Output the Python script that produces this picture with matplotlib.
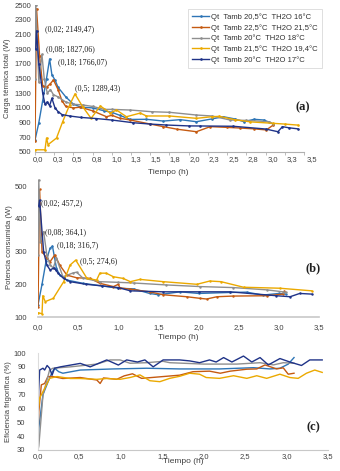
import matplotlib
matplotlib.use("Agg")
import matplotlib.pyplot as plt

# ---- series names and colours
labels = [
    "Qt  Tamb 20,5°C  TH2O 16°C",
    "Qt  Tamb 22,5°C  TH2O 21,5°C",
    "Qt  Tamb 20°C  TH2O 18°C",
    "Qt  Tamb 21,5°C  TH2O 19,4°C",
    "Qt  Tamb 20°C  TH2O 17°C",
]
colors = ["#2e75b6", "#c55a11", "#8f8f8f", "#eba900", "#1f3388"]

# ---- (a) carga térmica total (W)
ta_blue = [0, 0.05, 0.1, 0.15, 0.19, 0.22, 0.26, 0.3, 0.4, 0.5, 0.6, 0.75, 0.9, 1.0, 1.1, 1.24,
           1.45, 1.67, 1.89, 2.1, 2.3, 2.45, 2.6, 2.72, 2.85, 2.98, 3.1]
qa_blue = [660, 900, 1200, 1500, 1766, 1550, 1480, 1380, 1250, 1150, 1110, 1100, 1060, 1040, 1000, 943,
           945, 921, 940, 912, 950, 980, 950, 912, 945, 935, 880]
ta_orange = [0, 0.02, 0.06, 0.1, 0.15, 0.2, 0.24, 0.3, 0.35, 0.4, 0.5, 0.59, 0.75, 0.93, 1.0, 1.1,
             1.24, 1.5, 1.67, 1.85, 2.1, 2.28, 2.5, 2.67, 2.85, 3.01, 3.1]
qa_orange = [650, 2450, 1800, 1400, 1380, 1430, 1480, 1350, 1200, 1120, 1100, 1110, 1060, 980, 1000, 960,
             935, 880, 845, 810, 776, 845, 835, 826, 815, 800, 867]
ta_gray = [0, 0.01, 0.05, 0.09, 0.12, 0.16, 0.2, 0.24, 0.3, 0.4, 0.5, 0.62, 0.75, 0.9, 1.0, 1.24,
           1.52, 1.75, 2.1, 2.3, 2.54, 2.75, 3.05, 3.1]
qa_gray = [1500, 2500, 1450, 1827, 1500, 1300, 1350, 1280, 1250, 1180, 1150, 1140, 1120, 1080, 1080, 1071,
           1048, 1040, 1003, 990, 935, 930, 912, 880]
ta_gold = [0, 0.13, 0.15, 0.17, 0.28, 0.36, 0.45, 0.52, 0.62, 0.73, 0.85, 0.98, 1.06, 1.19, 1.37,
           1.45, 1.75, 2.1, 2.3, 2.4, 2.6, 2.8, 3.1, 3.25, 3.42]
qa_gold = [530, 530, 690, 600, 690, 912, 1139, 1289, 1116, 958, 1126, 1030, 1071, 980, 1030,
           990, 990, 958, 980, 985, 940, 910, 890, 880, 866]
ta_navy = [0.01, 0.02, 0.05, 0.1, 0.13, 0.16, 0.19, 0.22, 0.26, 0.3, 0.35, 0.45, 0.6, 0.8, 1.0,
           1.28, 1.5, 1.71, 2.0, 2.15, 2.58, 3.0, 3.16, 3.22, 3.3, 3.42]
qa_navy = [1900, 2149, 1700, 1300, 1150, 1180, 1130, 1230, 1100, 1050, 1010, 990, 970, 955, 935,
           898, 880, 867, 855, 854, 850, 813, 776, 845, 830, 815]

# ---- (b) potencia consumida (W)
tb_blue = [0, 0.05, 0.1, 0.15, 0.18, 0.23, 0.27, 0.36, 0.56, 0.8, 1.0, 1.19, 1.39, 1.5, 1.77,
           2.0, 2.39, 2.6, 2.8, 3.0, 3.09]
pb_blue = [137, 200, 270, 310, 317, 249, 228, 213, 203, 195, 188, 186, 172, 168, 177,
           172, 175, 176, 167, 172, 170]
tb_orange = [0, 0.02, 0.05, 0.11, 0.15, 0.21, 0.27, 0.36, 0.48, 0.65, 0.77, 0.94, 1.0, 1.02, 1.15,
             1.39, 1.56, 1.85, 2.02, 2.1, 2.23, 2.43, 2.85, 3.05, 3.07]
pb_orange = [130, 490, 300, 280, 269, 290, 259, 228, 220, 218, 203, 193, 200, 189, 185,
             177, 168, 162, 157, 155, 162, 164, 165, 170, 178]
tb_gray = [0, 0.01, 0.03, 0.07, 0.11, 0.15, 0.19, 0.23, 0.31, 0.44, 0.48, 0.56, 0.77, 1.0, 1.19,
           1.6, 2.02, 2.43, 2.85, 3.05, 3.09]
pb_gray = [290, 519, 330, 361, 290, 259, 250, 280, 223, 235, 237, 219, 208, 206, 204,
           198, 193, 190, 183, 177, 175]
tb_gold = [0, 0.05, 0.06, 0.09, 0.19, 0.32, 0.4, 0.47, 0.61, 0.73, 0.77, 0.85, 0.94, 1.06, 1.15,
           1.27, 1.56, 1.98, 2.14, 2.28, 2.56, 3.01, 3.41]
pb_gold = [113, 110, 165, 147, 157, 208, 259, 274, 218, 213, 234, 234, 223, 218, 208,
           215, 208, 200, 210, 208, 191, 188, 180]
tb_navy = [0.01, 0.02, 0.07, 0.11, 0.15, 0.2, 0.22, 0.25, 0.32, 0.4, 0.6, 0.8, 1.0, 1.15, 1.56,
           2.0, 2.39, 2.97, 3.14, 3.26, 3.41]
pb_navy = [440, 457, 300, 259, 244, 250, 244, 234, 218, 208, 200, 195, 190, 180, 177,
           177, 177, 165, 162, 172, 170]

# ---- (c) eficiencia frigorífica (%)
tc_blue = [0, 0.01, 0.06, 0.12, 0.17, 0.2, 0.25, 0.3, 0.51, 0.91, 1.31, 1.71, 2.19, 2.6, 2.8,
           2.92, 3.02, 3.09]
ec_blue = [30, 46, 70, 79, 86, 89, 86.5, 85.4, 87.7, 88.5, 89, 88.5, 88.5, 89.4, 88.5,
           89, 92, 96.7]
tc_orange = [0, 0.01, 0.04, 0.08, 0.12, 0.18, 0.3, 0.51, 0.71, 0.75, 0.79, 0.95, 1.04, 1.14, 1.25,
             1.51, 1.71, 1.87, 2.07, 2.2, 2.32, 2.52, 2.64, 2.74, 2.88, 2.96, 3.02, 3.09]
ec_orange = [38.5, 57.7, 77, 78, 83, 83, 81.6, 82.3, 80.5, 78, 82, 81, 83.5, 85, 81.7,
             83, 84, 86.5, 86.9, 85.4, 86.9, 88.3, 88.5, 91.4, 88.5, 89.3, 84.7, 85.4]
tc_gray = [0, 0.01, 0.06, 0.14, 0.18, 0.39, 0.71, 0.87, 0.99, 1.11, 1.31, 1.51, 1.59, 2.0, 2.4,
           2.68, 2.84, 2.96, 3.09]
ec_gray = [30, 33, 69.7, 87.7, 89, 90, 92, 95, 95, 92.6, 93, 94, 93, 92, 92,
           93, 91.4, 93, 92.6]
tc_gold = [0, 0.02, 0.08, 0.14, 0.23, 0.39, 0.51, 0.71, 0.83, 0.99, 1.11, 1.23, 1.35, 1.47, 1.59,
           1.71, 1.83, 1.95, 2.03, 2.19, 2.36, 2.52, 2.64, 2.76, 2.92, 3.04, 3.14, 3.24, 3.34, 3.43]
ec_gold = [58, 67.5, 74.5, 81.7, 83, 81.6, 81.6, 81, 81.6, 81, 82.3, 84.2, 80, 79.3, 81.7,
           83.2, 85.4, 84.7, 82.3, 81.7, 83.6, 81.7, 83.6, 81.7, 84.7, 82.3, 81.7, 85.4, 87.7, 86]
tc_navy = [0, 0.02, 0.06, 0.08, 0.11, 0.14, 0.17, 0.2, 0.27, 0.51, 0.63, 0.83, 0.97, 1.07, 1.2,
           1.29, 1.39, 1.51, 1.71, 1.83, 1.95, 2.07, 2.15, 2.24, 2.34, 2.48, 2.58, 2.68, 2.78, 2.92,
           3.04, 3.18, 3.28, 3.43]
ec_navy = [63, 87.7, 89, 87.7, 91, 89, 84, 89, 90, 92.5, 90, 95, 91.3, 95, 93.5,
           95, 90, 95, 95, 94.3, 93, 95, 93.5, 96.7, 93.5, 97.8, 93.5, 96.7, 91.4, 96,
           93.5, 91, 95, 95]

ticks_a = [i * 0.25 for i in range(15)]
ticklabels_a = ["0,0", "0,3", "0,5", "0,8", "1,0", "1,3", "1,5", "1,8", "2,0", "2,3",
                "2,5", "2,8", "3,0", "3,3", "3,5"]
ticks_c = [i * 0.5 for i in range(8)]
ticklabels_c = ["0,0", "0,5", "1,0", "1,5", "2,0", "2,5", "3,0", "3,5"]

W, H = 340, 471
fig = plt.figure(figsize=(W / 100, H / 100), dpi=100)
plt.rcParams["font.family"] = "Liberation Sans"

SERIF = "Liberation Serif"
TXT = "#404040"


def px_axes(left, right, top, bottom):
    return fig.add_axes([left / W, (H - bottom) / H, (right - left) / W, (bottom - top) / H])


def style(ax):
    for s in ["top", "right", "left"]:
        ax.spines[s].set_visible(False)
    ax.spines["bottom"].set_color("#c8c8c8")
    ax.tick_params(labelsize=5.5, colors=TXT, length=0)


# (a)
ax_a = px_axes(35, 304, 5, 152)
series_a = [(ta_blue, qa_blue), (ta_orange, qa_orange), (ta_gray, qa_gray), (ta_gold, qa_gold), (ta_navy, qa_navy)]
for (t, v), c, lab in zip(series_a, colors, labels):
    ax_a.plot(t, v, color=c, lw=1.0, marker=".", ms=1.8, label=lab)
ax_a.set_xlim(0, 3.5)
ax_a.set_ylim(500, 2500)
ax_a.set_yticks(range(500, 2501, 200))
ax_a.set_xticks(ticks_a)
ax_a.set_xticklabels([])
style(ax_a)
ax_a.spines["bottom"].set_color("#b0b0b0")
ax_a.tick_params(axis="x", length=2.5, width=0.6, color="#b0b0b0", direction="out")
ax_a.tick_params(axis="y", pad=3)
ax_a.set_ylabel("Carga térmica total (W)", fontsize=5.5, color=TXT, labelpad=2)
for tk, lb in zip(ticks_a, ticklabels_a):
    fig.text((38 + tk / 3.5 * 274) / W, (H - 160) / H, lb, fontsize=5.5, color=TXT,
             ha="center", va="center")
fig.text(168 / W, (H - 172) / H, "Tiempo (h)", fontsize=6, color=TXT, ha="center", va="center")

ann_a = [("(0,02; 2149,47)", 45, 29), ("(0,08; 1827,06)", 46, 49),
         ("(0,18; 1766,07)", 58, 62), ("(0,5; 1289,43)", 75, 88)]
for s, x, y in ann_a:
    fig.text(x / W, (H - y) / H, s, fontsize=5.8, family=SERIF, color="#202020", va="center")
fig.text(303 / W, (H - 107) / H, "(a)", fontsize=9, family=SERIF, weight="bold",
         color="#202020", ha="center", va="center")

leg = ax_a.legend(loc="upper left", bbox_to_anchor=(188 / W, (H - 9) / H),
                  bbox_transform=fig.transFigure, fontsize=5.5, frameon=True, fancybox=False,
                  edgecolor="#d0d0d0", handlelength=2.2, handletextpad=0.3,
                  labelspacing=0.4, borderpad=0.55, borderaxespad=0)
leg.get_frame().set_linewidth(0.6)
for txt in leg.get_texts():
    txt.set_color("#303030")

# (b)
ax_b = px_axes(38, 319, 178, 317)
series_b = [(tb_blue, pb_blue), (tb_orange, pb_orange), (tb_gray, pb_gray), (tb_gold, pb_gold), (tb_navy, pb_navy)]
for (t, v), c in zip(series_b, colors):
    ax_b.plot(t, v, color=c, lw=1.0, marker=".", ms=1.5)
ax_b.set_xlim(0, 3.5)
ax_b.set_ylim(100, 525)
ax_b.set_yticks(range(100, 501, 100))
ax_b.set_xticks(ticks_c)
ax_b.set_xticklabels(ticklabels_c)
style(ax_b)
ax_b.spines["bottom"].set_linewidth(1.2)
ax_b.tick_params(axis="y", pad=8)
ax_b.tick_params(axis="x", pad=5)
ax_b.set_ylabel("Potencia consumida (W)", fontsize=5.5, color=TXT, labelpad=1)
ax_b.set_xlabel("Tiempo (h)", fontsize=6, color=TXT, labelpad=2)

ann_b = [("(0,02; 457,2)", 41, 203), ("(0,08; 364,1)", 45, 232),
         ("(0,18; 316,7)", 57, 245), ("(0,5; 274,6)", 80, 261)]
for s, x, y in ann_b:
    fig.text(x / W, (H - y) / H, s, fontsize=5.8, family=SERIF, color="#202020", va="center")
fig.text(313 / W, (H - 268) / H, "(b)", fontsize=9, family=SERIF, weight="bold",
         color="#202020", ha="center", va="center")

# (c)
ax_c = px_axes(38, 328, 353, 450)
series_c = [(tc_blue, ec_blue), (tc_orange, ec_orange), (tc_gray, ec_gray), (tc_gold, ec_gold), (tc_navy, ec_navy)]
for (t, v), c in zip(series_c, colors):
    ax_c.plot(t, v, color=c, lw=1.0)
ax_c.set_xlim(0, 3.5)
ax_c.set_ylim(30, 100)
ax_c.set_yticks(range(30, 101, 10))
ax_c.set_xticks(ticks_c)
ax_c.set_xticklabels(ticklabels_c)
style(ax_c)
ax_c.spines["left"].set_visible(True)
ax_c.spines["left"].set_color("#dcdcdc")
ax_c.tick_params(axis="y", pad=9)
ax_c.tick_params(axis="x", pad=2)
ax_c.set_ylabel("Eficiencia frigorífica (%)", fontsize=5.5, color=TXT, labelpad=1)
ax_c.set_xlabel("Tiempo (h)", fontsize=6, color=TXT, labelpad=-1)
fig.text(313 / W, (H - 427) / H, "(c)", fontsize=9, family=SERIF, weight="bold",
         color="#202020", ha="center", va="center")

fig.savefig("out.png", dpi=100)
